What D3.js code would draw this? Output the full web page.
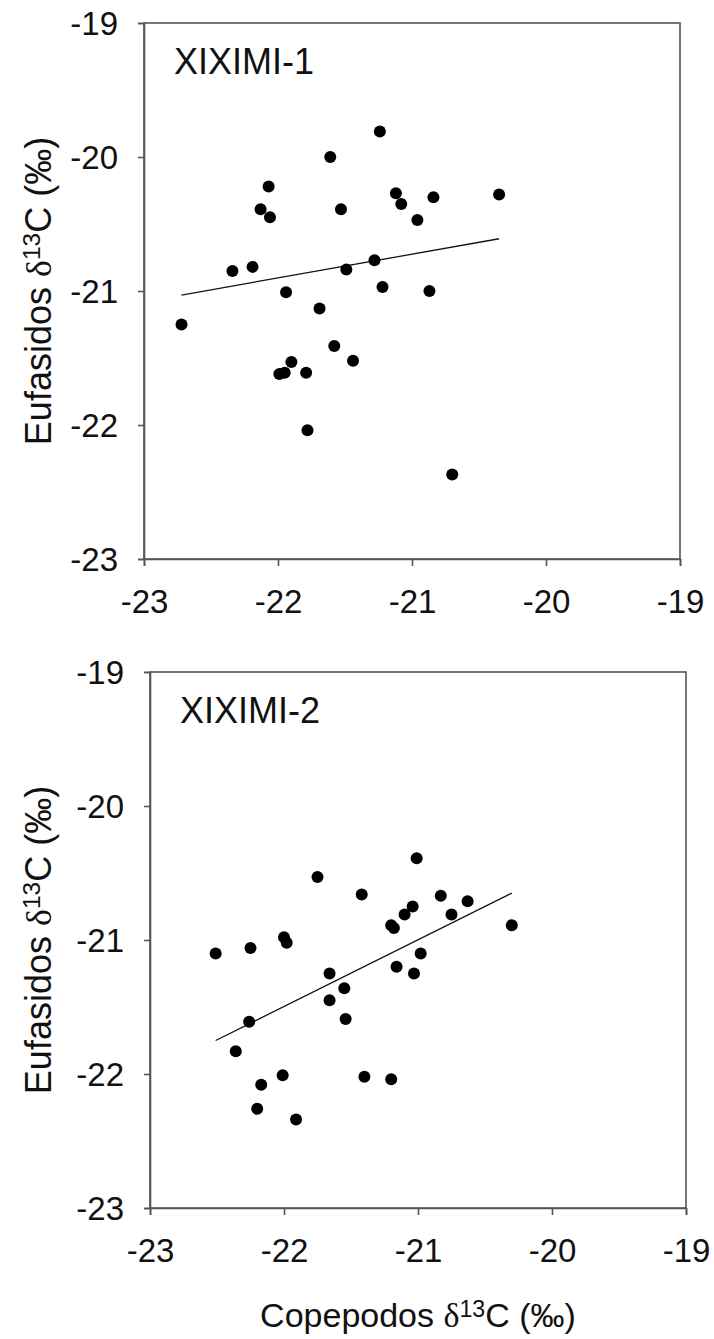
<!DOCTYPE html>
<html>
<head>
<meta charset="utf-8">
<script src="https://cdn.jsdelivr.net/npm/d3@7"></script>
<style>
  body { margin: 0; background: #fff; }
  svg text { font-family: "Liberation Sans", Arial, sans-serif; fill: #111; }
</style>
</head>
<body>
<div id="chart"></div>
<script>
// XIXIMI-1 points (copepodos vs eufasidos d13C)
const cop1 = [-22.72, -22.34, -22.19, -22.13, -22.06, -22.07, -21.94, -21.90, -21.99, -21.95,
  -21.79, -21.78, -21.69, -21.61, -21.58, -21.53, -21.49, -21.44, -21.24, -21.28,
  -21.22, -21.12, -21.08, -20.96, -20.87, -20.84, -20.70, -20.35];
const euf1 = [-21.25, -20.85, -20.82, -20.39, -20.45, -20.22, -21.01, -21.53, -21.62, -21.61,
  -21.61, -22.04, -21.13, -20.00, -21.41, -20.39, -20.84, -21.52, -19.81, -20.77,
  -20.97, -20.27, -20.35, -20.47, -21.00, -20.30, -22.37, -20.28];
const fit1X = [-22.72, -20.35];
const fit1Y = [-21.03, -20.61];

// XIXIMI-2 points
const cop2 = [-22.51, -22.25, -22.00, -21.98, -22.26, -22.36, -22.01, -22.17, -22.20, -21.91,
  -21.75, -21.66, -21.55, -21.66, -21.54, -21.42, -21.40, -21.20, -21.18, -21.20,
  -21.16, -21.10, -21.04, -21.03, -21.01, -20.98, -20.83, -20.75, -20.63, -20.30];
const euf2 = [-21.10, -21.06, -20.98, -21.02, -21.61, -21.83, -22.01, -22.08, -22.26, -22.34,
  -20.53, -21.25, -21.36, -21.45, -21.59, -20.66, -22.02, -20.89, -20.91, -22.04,
  -21.20, -20.81, -20.75, -21.25, -20.39, -21.10, -20.67, -20.81, -20.71, -20.89];
const fit2X = [-22.51, -20.30];
const fit2Y = [-21.75, -20.65];

const ticks = [-23, -22, -21, -20, -19];
const panelNames = ["XIXIMI-1", "XIXIMI-2"];
const yTitle = "Eufasidos";
const xTitle = "Copepodos";

const W = 714, H = 1339;
const svg = d3.select("#chart").append("svg")
  .attr("width", W)
  .attr("height", H);

// add "name δ13C (‰)" to a text element
function isoLabel(t, name) {
  t.append("tspan").text(name + " ");
  t.append("tspan").style("font-family", "'Liberation Serif', serif").text("δ");
  t.append("tspan").attr("dy", "-0.45em").style("font-size", "0.68em").text("13");
  t.append("tspan").attr("dy", "0.31em").text("C (‰)");
}

function drawPanel(left, top, xs, ys, fx, fy, name, showXTitle) {
  const size = 536;
  const x = d3.scaleLinear().domain([-23, -19]).range([left, left + size]);
  const y = d3.scaleLinear().domain([-23, -19]).range([top + size, top]);
  const g = svg.append("g");

  // frame
  g.append("rect")
    .attr("x", left).attr("y", top)
    .attr("width", size).attr("height", size)
    .attr("fill", "none").attr("stroke", "#555").attr("stroke-width", 1.6);

  const xAxis = g.append("g")
    .attr("transform", `translate(0, ${top + size})`)
    .call(d3.axisBottom(x).tickValues(ticks).tickSize(7).tickPadding(24).tickFormat(d3.format("d")));
  const yAxis = g.append("g")
    .attr("transform", `translate(${left}, 0)`)
    .call(d3.axisLeft(y).tickValues(ticks).tickSize(6).tickPadding(20).tickFormat(d3.format("d")));
  [xAxis, yAxis].forEach(a => {
    a.select(".domain").attr("stroke", "#555").attr("stroke-width", 1.6);
    a.selectAll(".tick line").attr("stroke", "#555").attr("stroke-width", 1.6);
    a.selectAll(".tick text")
      .attr("fill", "#111")
      .style("font-family", "'Liberation Sans', Arial, sans-serif")
      .style("font-size", "33px")
      .text(d => "-" + Math.abs(d));
  });
  yAxis.selectAll(".tick text").attr("dy", "0.34em");

  // regression line
  g.append("line")
    .attr("x1", x(fx[0])).attr("y1", y(fy[0]))
    .attr("x2", x(fx[1])).attr("y2", y(fy[1]))
    .attr("stroke", "#111").attr("stroke-width", 1.3);

  // points
  g.selectAll("circle").data(xs).join("circle")
    .attr("cx", d => x(d))
    .attr("cy", (d, i) => y(ys[i]))
    .attr("r", 6)
    .attr("fill", "#000");

  // panel label
  g.append("text")
    .attr("x", left + 30).attr("y", top + 51)
    .style("font-size", "36px")
    .text(name);

  // y title
  const yt = g.append("text")
    .attr("transform", `translate(51, ${top + size / 2}) rotate(-90)`)
    .attr("text-anchor", "middle")
    .style("font-size", "36px");
  isoLabel(yt, yTitle);

  if (showXTitle) {
    const xt = g.append("text")
      .attr("x", left + size / 2).attr("y", top + size + 119)
      .attr("text-anchor", "middle")
      .style("font-size", "34px");
    isoLabel(xt, xTitle);
  }
}

drawPanel(144, 23, cop1, euf1, fit1X, fit1Y, panelNames[0], false);
drawPanel(150, 672, cop2, euf2, fit2X, fit2Y, panelNames[1], true);
</script>
</body>
</html>
